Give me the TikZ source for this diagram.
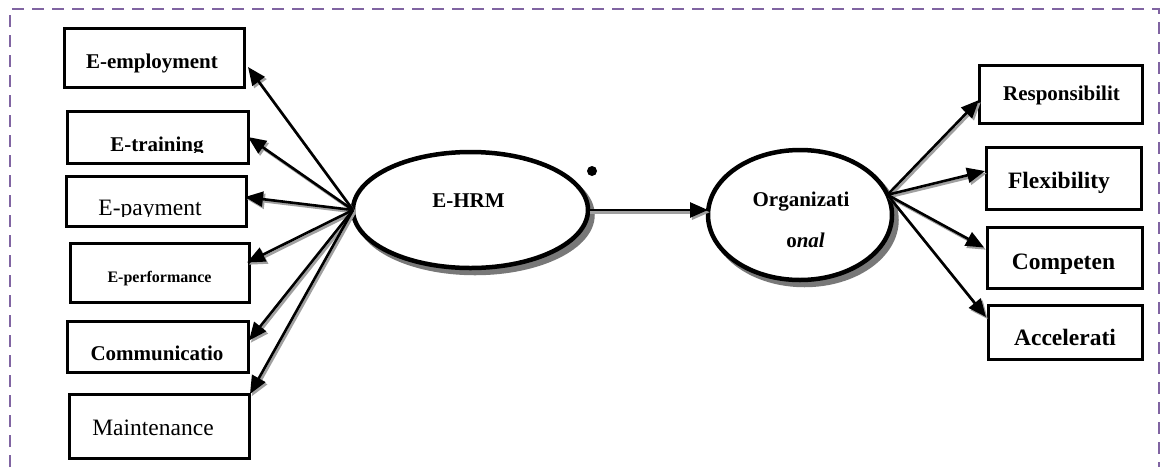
\documentclass[tikz,border=0pt]{standalone}
\usepackage{fontspec}
\setmainfont{Liberation Serif}
\usetikzlibrary{arrows.meta,shapes.geometric}
\definecolor{framec}{RGB}{128,100,162}
\definecolor{shad}{RGB}{120,120,120}
\definecolor{lshad}{RGB}{160,160,160}
\tikzset{
  box/.style={draw, line width=3pt, inner sep=0pt, outer sep=0pt, fill=white},
  oval/.style={ellipse, draw, line width=4.5pt, inner sep=0pt, outer sep=0pt, fill=white},
  ovalshadow/.style={ellipse, draw=shad, fill=shad, line width=4.5pt, inner sep=0pt, outer sep=0pt},
  lbl/.style={anchor=base, inner sep=0pt, outer sep=0pt},
  bA/.style={font=\fontsize{21}{25}\selectfont\bfseries},
  bB/.style={font=\fontsize{23.5}{28}\selectfont\bfseries},
  rB/.style={font=\fontsize{23.5}{28}\selectfont},
  sB/.style={font=\fontsize{16}{19}\selectfont\bfseries},
  conn/.style={line width=2.6pt, -{Triangle[length=18pt,width=15pt]}},
  connshadow/.style={conn, draw=lshad, transform canvas={xshift=1.8pt,yshift=-2.2pt}},
  framel/.style={draw=framec, line width=2.5pt, dash pattern=on 12pt off 8pt}
}
\begin{document}
\begin{tikzpicture}[x=1pt,y=-1pt]
\useasboundingbox (0,0) rectangle (1160,467);
% frame
\draw[framel] (10,467) -- (10,9) -- (1159,9) -- (1159,467);

% ellipse shadows
\node[ovalshadow, minimum width=235pt, minimum height=116pt] (ehrmS) at (475,215) {};
\node[ovalshadow, minimum width=184pt, minimum height=130pt] (orgS) at (804.5,220) {};

% ellipses
\node[oval, minimum width=235pt, minimum height=116pt] (ehrm) at (470.5,210) {};
\node[oval, minimum width=184pt, minimum height=130pt] (org) at (800,215) {};

% boxes
\node[box, minimum width=180pt, minimum height=59pt] (emp) at (154,57.5) {};
\node[box, minimum width=181pt, minimum height=52pt] (trn) at (157.5,137) {};
\node[box, minimum width=180pt, minimum height=50pt] (pay) at (156,201) {};
\node[box, minimum width=179pt, minimum height=59pt] (perf) at (159.5,272.5) {};
\node[box, minimum width=181pt, minimum height=51pt] (comm) at (157.5,346.5) {};
\node[box, minimum width=180pt, minimum height=64pt] (mnt) at (159,426) {};
\node[box, minimum width=163pt, minimum height=58pt] (resp) at (1060.5,94) {};
\node[box, minimum width=155pt, minimum height=62pt] (flex) at (1063.5,178) {};
\node[box, minimum width=155pt, minimum height=61pt] (comp) at (1064.5,257.5) {};
\node[box, minimum width=154pt, minimum height=54pt] (acc) at (1065,332) {};

% connector shadows
\draw[connshadow] (ehrm.west) -- ([shift={(4,9.5)}]emp.east);
\draw[connshadow] (ehrm.west) -- (trn.east);
\draw[connshadow] (ehrm.west) -- ([shift={(-1,-4)}]pay.east);
\draw[connshadow] (ehrm.west) -- ([shift={(-2,-10)}]perf.east);
\draw[connshadow] (ehrm.west) -- ([shift={(1,-6)}]comm.east);
\draw[connshadow] (ehrm.west) -- ([shift={(1,0)}]mnt.north east);
\draw[connshadow] (ehrm.east) -- (ehrm.east -| org.west);
\draw[connshadow] (org.13) -- ([shift={(0,6)}]resp.west);
\draw[connshadow] (org.13) -- ([shift={(-1,-7)}]flex.west);
\draw[connshadow] (org.13) -- ([shift={(-3,-10)}]comp.west);
\draw[connshadow] (org.13) -- ([shift={(-2,-15)}]acc.west);

% connectors
\draw[conn] (ehrm.west) -- ([shift={(4,9.5)}]emp.east);
\draw[conn] (ehrm.west) -- (trn.east);
\draw[conn] (ehrm.west) -- ([shift={(-1,-4)}]pay.east);
\draw[conn] (ehrm.west) -- ([shift={(-2,-10)}]perf.east);
\draw[conn] (ehrm.west) -- ([shift={(1,-6)}]comm.east);
\draw[conn] (ehrm.west) -- ([shift={(1,0)}]mnt.north east);
\draw[conn] (ehrm.east) -- (ehrm.east -| org.west);
\draw[conn] (org.13) -- ([shift={(0,6)}]resp.west);
\draw[conn] (org.13) -- ([shift={(-1,-7)}]flex.west);
\draw[conn] (org.13) -- ([shift={(-3,-10)}]comp.west);
\draw[conn] (org.13) -- ([shift={(-2,-15)}]acc.west);

% dot
\fill (592,171) circle[radius=5pt];

% labels
\node[lbl, bA] (empT) at (152,68) {E-employment};
\begin{scope}
  \clip (67,111) rectangle (248,152.5);
  \node[lbl, bA] (trnT) at (157,151.5) {E-training};
\end{scope}
\begin{scope}
  \clip (66,176) rectangle (246,216.5);
  \node[lbl, rB] (payT) at (150,215) {E-payment};
\end{scope}
\node[lbl, sB] (perfT) at (159.5,282) {E-performance};
\node[lbl, bA] (commT) at (157,360) {Communicatio};
\node[lbl, rB] (mntT) at (153,435) {Maintenance};
\node[lbl, bA] (ehrmT) at (468.5,207) {E-HRM};
\node[lbl, bA] (orgT1) at (801,206) {Organizati};
\node[lbl, bA] (orgT2) at (805.5,247) {o\textit{nal}};
\node[lbl, bA] (respT) at (1061.5,100) {Responsibilit};
\node[lbl, bB] (flexT) at (1059,188) {Flexibility};
\node[lbl, bB] (compT) at (1063.5,269) {Competen};
\node[lbl, bB] (accT) at (1065,345) {Accelerati};
\end{tikzpicture}
\end{document}
